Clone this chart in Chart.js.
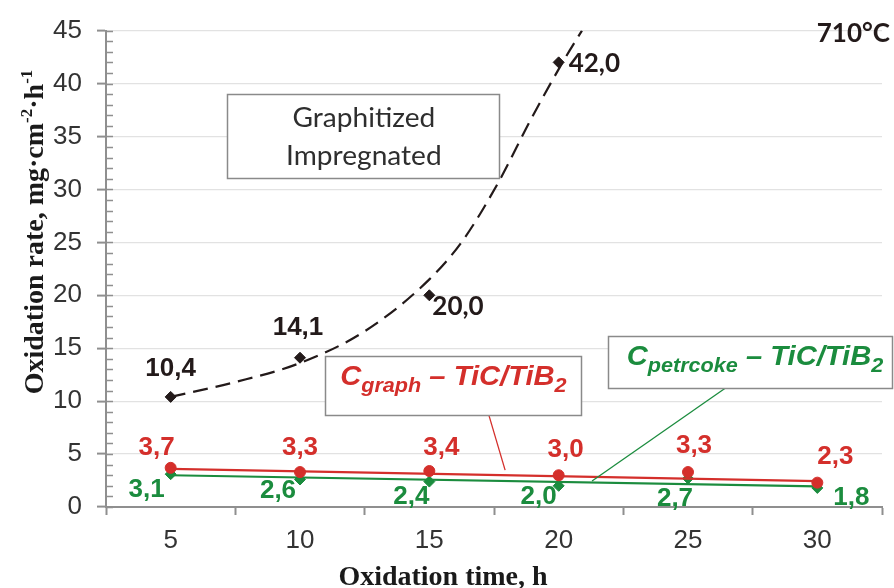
<!DOCTYPE html>
<html>
<head>
<meta charset="utf-8">
<script src="https://cdn.jsdelivr.net/npm/chart.js@4.4.1/dist/chart.umd.min.js"></script>
<style>
html, body { margin: 0; padding: 0; background: #fff; }
#wrap { width: 894px; height: 588px; }
</style>
</head>
<body>
<div id="wrap"><canvas id="oxChart" width="894" height="588"></canvas></div>
<script>
// oxidation time, h
const times = [5, 10, 15, 20, 25, 30];
const impregTimes = [5, 10, 15, 20];

// oxidation rate, mg/cm2/h
const impregRate = [10.4, 14.1, 20.0, 42.0];
const graphRate = [3.7, 3.3, 3.4, 3.0, 3.3, 2.3];
const petrRate = [3.1, 2.6, 2.4, 2.0, 2.7, 1.8];

// trend lines
const impregTrendX = [5, 7.5, 10, 12.5, 15, 16.3, 17.7, 18.9, 20.2, 20.9];
const impregTrendY = [10.4, 11.8, 13.6, 16.6, 21.5, 25.2, 30.8, 36.5, 42.2, 45];
const trendX = [5, 30];
const graphTrendY = [3.6, 2.45];
const petrTrendY = [3.0, 1.95];

const RED = '#d42f2b';
const GREEN = '#1b8c3e';
const DARK = '#231a1a';
const AXIS = '#8f8f8f';

const toPts = (xs, ys) => xs.map((x, i) => ({ x: x, y: ys[i] }));
const fmt = v => v.toFixed(1).replace('.', ',');

// label offsets (px) from each point: [dx, dy, align]
const impregLabelPos = [[0, -28, 'center'], [-2, -30, 'center'], [3, 11, 'left'], [10, 1, 'left']];
const graphLabelPos = [[-14, -20, 'center'], [0, -24, 'center'], [12, -23, 'center'], [7, -25, 'center'], [6, -26, 'center'], [18, -26, 'center']];
const petrLabelPos = [[-24, 16, 'center'], [-22, 11, 'center'], [-18, 15, 'center'], [-20, 11, 'center'], [-13, 20, 'center'], [34, 10, 'center']];

// draws text made of pieces (sub/superscripts), centred on cx
function drawRich(c, parts, cx, base, sx) {
    let total = 0;
    parts.forEach(p => { c.font = p.font; p.w = c.measureText(p.t).width; total += p.w; });
    c.save();
    c.translate(cx, base);
    c.scale(sx, 1);
    let x = -total / 2;
    parts.forEach(p => {
        c.font = p.font;
        c.textAlign = 'left';
        c.textBaseline = 'alphabetic';
        c.fillText(p.t, x, p.dy || 0);
        x += p.w;
    });
    c.restore();
}

const annotations = {
    id: 'annotations',
    afterDraw(chart) {
        const c = chart.ctx;
        const X = v => chart.scales.x.getPixelForValue(v);
        const Y = v => chart.scales.y.getPixelForValue(v);
        const area = chart.chartArea;

        // minor ticks on the y axis
        c.save();
        c.strokeStyle = AXIS;
        c.lineWidth = 1.5;
        for (let v = 0; v <= 45; v++) {
            const yy = Math.round(Y(v)) + 0.5;
            c.beginPath();
            c.moveTo(area.left, yy);
            c.lineTo(area.left + 7, yy);
            c.stroke();
        }
        c.restore();

        // data labels
        const labelFont = 'bold 26px "Liberation Sans"';
        const labelSets = [
            { meta: 1, vals: impregRate, pos: impregLabelPos, color: DARK, fonts: [labelFont, labelFont, 'bold 26px Lato', 'bold 26px Lato'] },
            { meta: 3, vals: graphRate, pos: graphLabelPos, color: RED, fonts: null },
            { meta: 5, vals: petrRate, pos: petrLabelPos, color: GREEN, fonts: null }
        ];
        c.save();
        c.textBaseline = 'middle';
        labelSets.forEach(set => {
            const pts = chart.getDatasetMeta(set.meta).data;
            pts.forEach((pt, i) => {
                const p = set.pos[i];
                c.fillStyle = set.color;
                c.font = set.fonts ? set.fonts[i] : labelFont;
                c.textAlign = p[2];
                c.fillText(fmt(set.vals[i]), pt.x + p[0], pt.y + p[1]);
            });
        });
        c.restore();

        // leader lines
        c.save();
        c.lineWidth = 1.3;
        c.strokeStyle = RED;
        c.beginPath(); c.moveTo(X(17.27), Y(8.94)); c.lineTo(X(17.93), Y(3.48)); c.stroke();
        c.strokeStyle = GREEN;
        c.beginPath(); c.moveTo(X(26.7), Y(11.67)); c.lineTo(X(21.29), Y(2.45)); c.stroke();
        c.restore();

        // text boxes
        const box = (x0, x1, y0, y1) => {
            const l = Math.round(X(x0)) + 0.5, r = Math.round(X(x1)) - 0.5;
            const t = Math.round(Y(y0)) + 0.5, b = Math.round(Y(y1)) + 0.5;
            c.fillStyle = '#fff';
            c.fillRect(l, t, r - l, b - t);
            c.strokeStyle = '#8a8a8a';
            c.lineWidth = 1.5;
            c.strokeRect(l, t, r - l, b - t);
        };
        c.save();
        box(7.18, 17.73, 38.98, 31.07);
        c.fillStyle = '#2e2e2e';
        drawRich(c, [{ t: 'Graphitized', font: '26px Lato' }], X(12.47), Y(35.87), 1.08);
        drawRich(c, [{ t: 'Impregnated', font: '26px Lato' }], X(12.47), Y(32.29), 1.08);

        box(10.97, 20.9, 14.31, 8.66);
        c.fillStyle = RED;
        drawRich(c, [
            { t: 'C', font: 'italic bold 27px "Liberation Sans"' },
            { t: 'graph', font: 'italic bold 20px "Liberation Sans"', dy: 7 },
            { t: ' \u2013 TiC/TiB', font: 'italic bold 27px "Liberation Sans"' },
            { t: '2', font: 'italic bold 20px "Liberation Sans"', dy: 7 }
        ], X(15.93), Y(11.49), 1.08);

        box(21.91, 32.93, 16.19, 11.2);
        c.fillStyle = GREEN;
        drawRich(c, [
            { t: 'C', font: 'italic bold 27px "Liberation Sans"' },
            { t: 'petrcoke', font: 'italic bold 20px "Liberation Sans"', dy: 7 },
            { t: ' \u2013 TiC/TiB', font: 'italic bold 27px "Liberation Sans"' },
            { t: '2', font: 'italic bold 20px "Liberation Sans"', dy: 7 }
        ], X(27.59), Y(13.37), 1.08);

        // temperature
        c.fillStyle = DARK;
        c.font = 'bold 26px Lato';
        c.textAlign = 'right';
        c.textBaseline = 'middle';
        c.fillText('710\u00b0C', X(32.81), Y(44.72));
        c.restore();

        // axis titles
        c.save();
        c.fillStyle = '#1a1a1a';
        c.translate(43, 232);
        c.rotate(-Math.PI / 2);
        const serif = 'bold 28px "Liberation Serif"';
        const sup = 'bold 17px "Liberation Serif"';
        drawRich(c, [
            { t: 'Oxidation rate, mg\u00b7cm', font: serif },
            { t: '-2', font: sup, dy: -11 },
            { t: '\u00b7h', font: serif },
            { t: '-1', font: sup, dy: -11 }
        ], 0, 0, 1);
        c.restore();

        c.save();
        c.fillStyle = '#1a1a1a';
        c.font = serif;
        c.textAlign = 'center';
        c.textBaseline = 'alphabetic';
        c.fillText('Oxidation time, h', 443, 585);
        c.restore();
    }
};

const ctx = document.getElementById('oxChart').getContext('2d');
new Chart(ctx, {
    type: 'line',
    data: {
        datasets: [
            {
                data: toPts(impregTrendX, impregTrendY),
                borderColor: DARK, borderWidth: 2.2, borderDash: [15, 8],
                pointRadius: 0, cubicInterpolationMode: 'monotone'
            },
            {
                data: toPts(impregTimes, impregRate), showLine: false,
                pointStyle: 'rectRot', pointRadius: 5.5,
                backgroundColor: DARK, borderColor: DARK
            },
            {
                data: toPts(trendX, graphTrendY),
                borderColor: RED, borderWidth: 2.2, pointRadius: 0
            },
            {
                data: toPts(times, graphRate), showLine: false,
                pointStyle: 'circle', pointRadius: 5.5,
                backgroundColor: RED, borderColor: RED
            },
            {
                data: toPts(trendX, petrTrendY),
                borderColor: GREEN, borderWidth: 2.2, pointRadius: 0
            },
            {
                data: toPts(times, petrRate), showLine: false,
                pointStyle: 'rectRot', pointRadius: 5.5,
                backgroundColor: GREEN, borderColor: GREEN
            }
        ]
    },
    options: {
        responsive: false,
        animation: false,
        layout: { padding: { top: 29, right: 12, bottom: 0, left: 0 } },
        plugins: {
            legend: { display: false },
            tooltip: { enabled: false }
        },
        scales: {
            x: {
                type: 'linear',
                min: 2.5,
                max: 32.5,
                afterFit: s => { s.height = 81; },
                ticks: {
                    stepSize: 2.5,
                    autoSkip: false,
                    maxRotation: 0,
                    padding: 10,
                    color: '#333',
                    font: { family: '"Liberation Sans"', size: 26 },
                    callback: v => (v % 5 === 0 ? v : '')
                },
                grid: {
                    drawOnChartArea: false,
                    tickLength: 8,
                    tickWidth: 2,
                    tickColor: c => (c.tick && c.tick.value % 5 === 0 ? 'rgba(0,0,0,0)' : AXIS)
                },
                border: { color: AXIS, width: 2 }
            },
            y: {
                min: 0,
                max: 45,
                afterFit: s => { s.width = 106; },
                ticks: {
                    stepSize: 5,
                    padding: 15,
                    color: '#333',
                    font: { family: '"Liberation Sans"', size: 26 }
                },
                grid: {
                    color: '#e2e2e2',
                    lineWidth: 1.2,
                    tickLength: 9,
                    tickWidth: 2,
                    tickColor: AXIS
                },
                border: { color: AXIS, width: 2 }
            }
        }
    },
    plugins: [annotations]
});
</script>
</body>
</html>
